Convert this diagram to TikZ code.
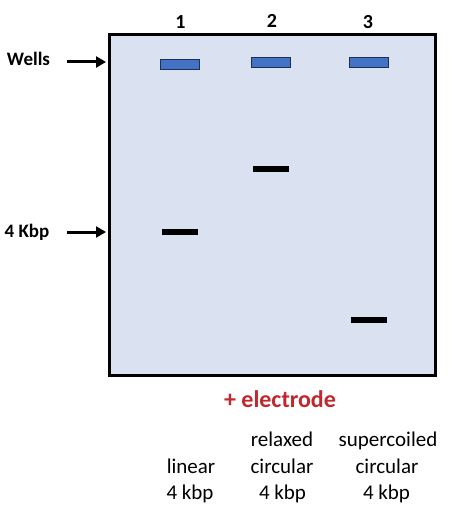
\documentclass[tikz,border=0pt]{standalone}
\usepackage{fontspec}
\setmainfont{Carlito}
\usetikzlibrary{arrows.meta}
\definecolor{gelfill}{HTML}{DAE1F1}
\definecolor{wellfill}{HTML}{4472C4}
\definecolor{wellline}{HTML}{1F2F50}
\definecolor{elecred}{HTML}{C0282D}
\tikzset{
  gel/.style={draw=black, line width=3pt, fill=gelfill},
  well/.style={draw=wellline, line width=0.8pt, fill=wellfill},
  band/.style={fill=black, draw=none},
  lanenum/.style={font=\bfseries\fontsize{20}{20}\selectfont, inner sep=0pt},
  sidelab/.style={font=\bfseries\fontsize{19}{19}\selectfont, inner sep=0pt, anchor=base},
  ptr/.style={-{Triangle[length=10pt,width=11pt]}, line width=3pt},
  desc/.style={font=\fontsize{21}{21}\selectfont, inner sep=0pt, anchor=base},
}
\begin{document}
\begin{tikzpicture}[x=1pt,y=-1pt]
\useasboundingbox (0,0) rectangle (458,510);
\draw[gel] (109,34.5) rectangle (435,375);
\coordinate (gelleftW) at (106,62);
\coordinate (gelleftK) at (106,232);
% wells
\draw[well] (160,59) rectangle (199,69);
\draw[well] (251,57) rectangle (290,67);
\draw[well] (349,57) rectangle (388,67);
% bands
\fill[band] (162,229) rectangle (198,235);
\fill[band] (253,166) rectangle (289,172);
\fill[band] (351,317) rectangle (387,323);
% lane numbers
\node[lanenum] (n1) at (180.5,22.5) {1};
\node[lanenum] (n2) at (272,20.5) {2};
\node[lanenum] (n3) at (368,22.5) {3};
% side labels
\node[sidelab] (wells) at (28.5,66) {Wells};
\node[sidelab] (kbp) at (27,237) {4 Kbp};
\coordinate (wa) at (67,62);
\coordinate (ka) at (67,232);
\draw[ptr] (wa) -- (gelleftW);
\draw[ptr] (ka) -- (gelleftK);
% electrode
\node[font=\bfseries\fontsize{24}{24}\selectfont, text=elecred, inner sep=0pt, anchor=base] (elec) at (280,407.5) {+ electrode};
% descriptions
\node[desc] (l1a) at (191,473) {linear};
\node[desc] (l1b) at (190,499.5) {4 kbp};
\node[desc] (l2a) at (282,446.5) {relaxed};
\node[desc] (l2b) at (282,473) {circular};
\node[desc] (l2c) at (282.5,499.5) {4 kbp};
\node[desc] (l3a) at (388,446.5) {supercoiled};
\node[desc] (l3b) at (387,473) {circular};
\node[desc] (l3c) at (386.5,499.5) {4 kbp};
\end{tikzpicture}
\end{document}
